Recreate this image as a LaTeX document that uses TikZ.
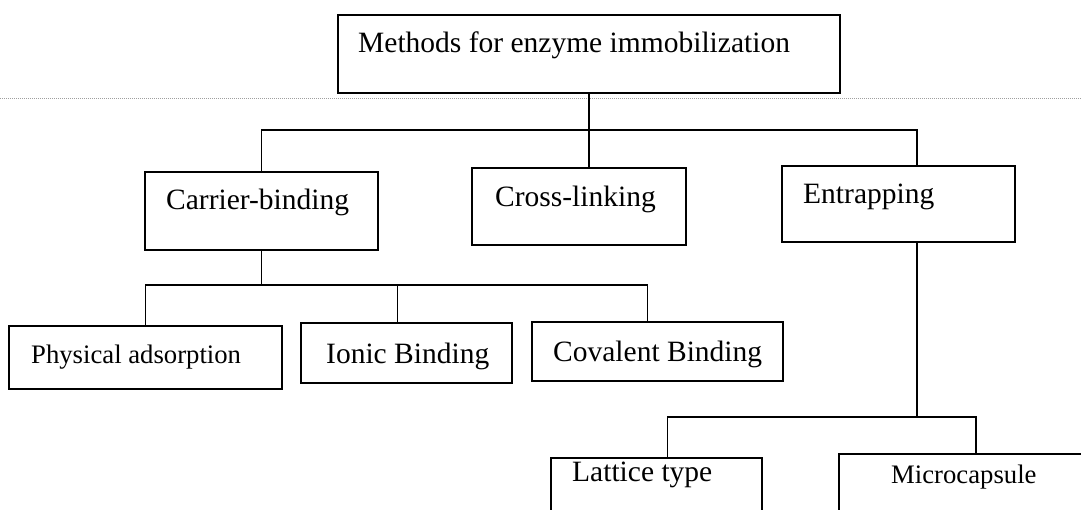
\documentclass[tikz,border=0pt]{standalone}
\usepackage{fontspec}
\setmainfont{Liberation Serif}
\begin{document}
\begin{tikzpicture}[x=1pt,y=-1pt,
  box/.style={draw, line width=1.6pt, inner sep=0pt, outer sep=0pt, anchor=north west},
  lbl/.style={anchor=base west, inner sep=0pt, font=\fontsize{29.5}{31}\selectfont},
  lbls/.style={anchor=base west, inner sep=0pt, font=\fontsize{26.7}{28}\selectfont},
  conn/.style={line width=1.8pt},
  scanline/.style={gray!75, densely dotted, line width=1pt}]
\useasboundingbox (0,0) rectangle (1081,510);
\clip (0,0) rectangle (1081,510);
% faint dotted scan line
\coordinate (dl) at (0,99);
\coordinate (dr) at (1081,99);
\draw[scanline] (dl) -- (dr);
% boxes
\node[box, minimum width=502pt, minimum height=78pt] (top) at (338,15) {};
\node[box, minimum width=233pt, minimum height=78pt] (carrier) at (145,172) {};
\node[box, minimum width=214pt, minimum height=77pt] (cross) at (472,168) {};
\node[box, minimum width=233pt, minimum height=76pt] (entrap) at (782,166) {};
\node[box, minimum width=273pt, minimum height=63pt] (phys) at (9,326) {};
\node[box, minimum width=211pt, minimum height=60pt] (ionic) at (301,323) {};
\node[box, minimum width=251pt, minimum height=59pt] (cov) at (532,322) {};
\node[box, minimum width=211pt, minimum height=80pt] (lat) at (551,458) {};
\node[box, minimum width=271pt, minimum height=80pt] (micro) at (839,454) {};
% labels
\node[lbl] (tTop) at (358,53) {Methods for enzyme immobilization};
\node[lbl] (tCarrier) at (166,210) {Carrier-binding};
\node[lbl] (tCross) at (495,207) {Cross-linking};
\node[lbl] (tEntrap) at (803,204) {Entrapping};
\node[lbls] (tPhys) at (31,363) {Physical adsorption};
\node[lbl] (tIonic) at (326,363) {Ionic Binding};
\node[lbl] (tCov) at (553,362) {Covalent Binding};
\node[lbl] (tLat) at (572,481) {Lattice type};
\node[lbls] (tMicro) at (891,483) {Microcapsule};
% connectors
\coordinate (bar) at (589,130);
\draw[conn] (top.south) -- (top.south |- cross.north);
\draw[conn] (carrier.north) |- (bar) -| ([xshift=18.5pt]entrap.north);
\coordinate (cb) at (261.5,285);
\draw[conn] (carrier.south) -- (carrier.south |- cb);
\draw[conn] (phys.north) |- (cb) -| ([xshift=-10pt]cov.north);
\draw[conn] ([xshift=-9pt]ionic.north) -- ([xshift=-9pt]ionic.north |- cb);
\coordinate (eb) at (917,417);
\draw[conn] ([xshift=18.5pt]entrap.south) -- (eb);
\draw[conn] ([xshift=11pt]lat.north) |- (eb) -| ([xshift=1.5pt]micro.north);
\end{tikzpicture}
\end{document}
